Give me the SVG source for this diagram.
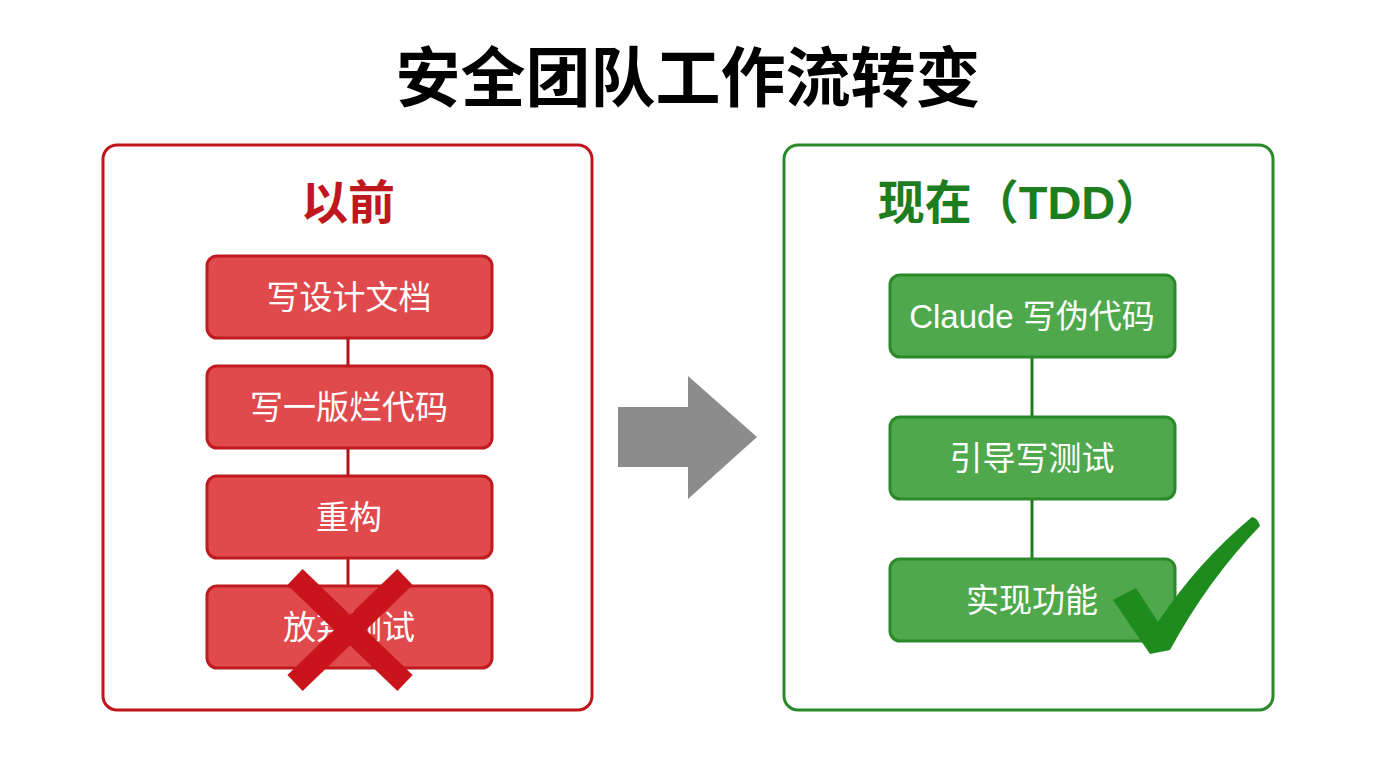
<svg xmlns="http://www.w3.org/2000/svg" width="1376" height="768" viewBox="0 0 1376 768">
<style>
.t{font-family:"Liberation Sans","Noto Sans CJK SC",sans-serif;}
.title{font-size:65px;font-weight:700;fill:#000;text-anchor:middle;}
.ph{font-size:47px;font-weight:700;text-anchor:middle;}
.lbl{font-size:33px;fill:#fff;text-anchor:middle;dominant-baseline:central;}
.rbox{fill:#E04A4C;stroke:#C01A1E;stroke-width:3;}
.gbox{fill:#4FA84B;stroke:#2A8A2A;stroke-width:3;}
</style>
<rect width="1376" height="768" fill="#fff"/>
<text class="t title" x="688" y="101">安全团队工作流转变</text>

<g id="panel-before">
<rect x="103" y="145" width="489" height="565" rx="14" fill="#fff" stroke="#C0161B" stroke-width="3"/>
<text class="t ph" x="348" y="219" fill="#C0171C">以前</text>
</g>
<g id="panel-now">
<rect x="784" y="145" width="489" height="565" rx="14" fill="#fff" stroke="#2A8A2A" stroke-width="3"/>
<text class="t ph" x="1020" y="219" fill="#1E7D1E">现在（TDD）</text>
</g>

<g id="connectors">
<line x1="348" y1="338" x2="348" y2="366" stroke="#B0141A" stroke-width="3"/>
<line x1="348" y1="448" x2="348" y2="476" stroke="#B0141A" stroke-width="3"/>
<line x1="348" y1="558" x2="348" y2="586" stroke="#B0141A" stroke-width="3"/>
<line x1="1032" y1="357" x2="1032" y2="417" stroke="#1E7D1E" stroke-width="3"/>
<line x1="1032" y1="499" x2="1032" y2="559" stroke="#1E7D1E" stroke-width="3"/>
</g>

<g id="b1"><rect class="rbox" x="207" y="256" width="285" height="82" rx="10"/><text class="t lbl" x="349" y="297">写设计文档</text></g>
<g id="b2"><rect class="rbox" x="207" y="366" width="285" height="82" rx="10"/><text class="t lbl" x="349" y="407">写一版烂代码</text></g>
<g id="b3"><rect class="rbox" x="207" y="476" width="285" height="82" rx="10"/><text class="t lbl" x="349" y="517">重构</text></g>
<g id="b4"><rect class="rbox" x="207" y="586" width="285" height="82" rx="10"/><text class="t lbl" x="349" y="627">放弃测试</text></g>

<g id="cross">
<line x1="295" y1="577" x2="405" y2="683" stroke="#C8141A" stroke-width="22"/>
<line x1="405" y1="577" x2="295" y2="683" stroke="#C8141A" stroke-width="22"/>
</g>

<g id="arrow">
<polygon points="618,407 688,407 688,376 757,437 688,499 688,467 618,467" fill="#8C8C8C"/>
</g>

<g id="g1"><rect class="gbox" x="890" y="275" width="285" height="82" rx="10"/><text class="t lbl" x="1032" y="316">Claude 写伪代码</text></g>
<g id="g2"><rect class="gbox" x="890" y="417" width="285" height="82" rx="10"/><text class="t lbl" x="1032" y="458">引导写测试</text></g>
<g id="g3"><rect class="gbox" x="890" y="559" width="285" height="82" rx="10"/><text class="t lbl" x="1032" y="600">实现功能</text></g>

<g id="check">
<path d="M1113,600 L1136,588 L1158,622 Q1198,562 1252,517 Q1258,518 1260,526 Q1208,580 1170,650 L1150,654 Z" fill="#1E8B1E"/>
</g>
</svg>
